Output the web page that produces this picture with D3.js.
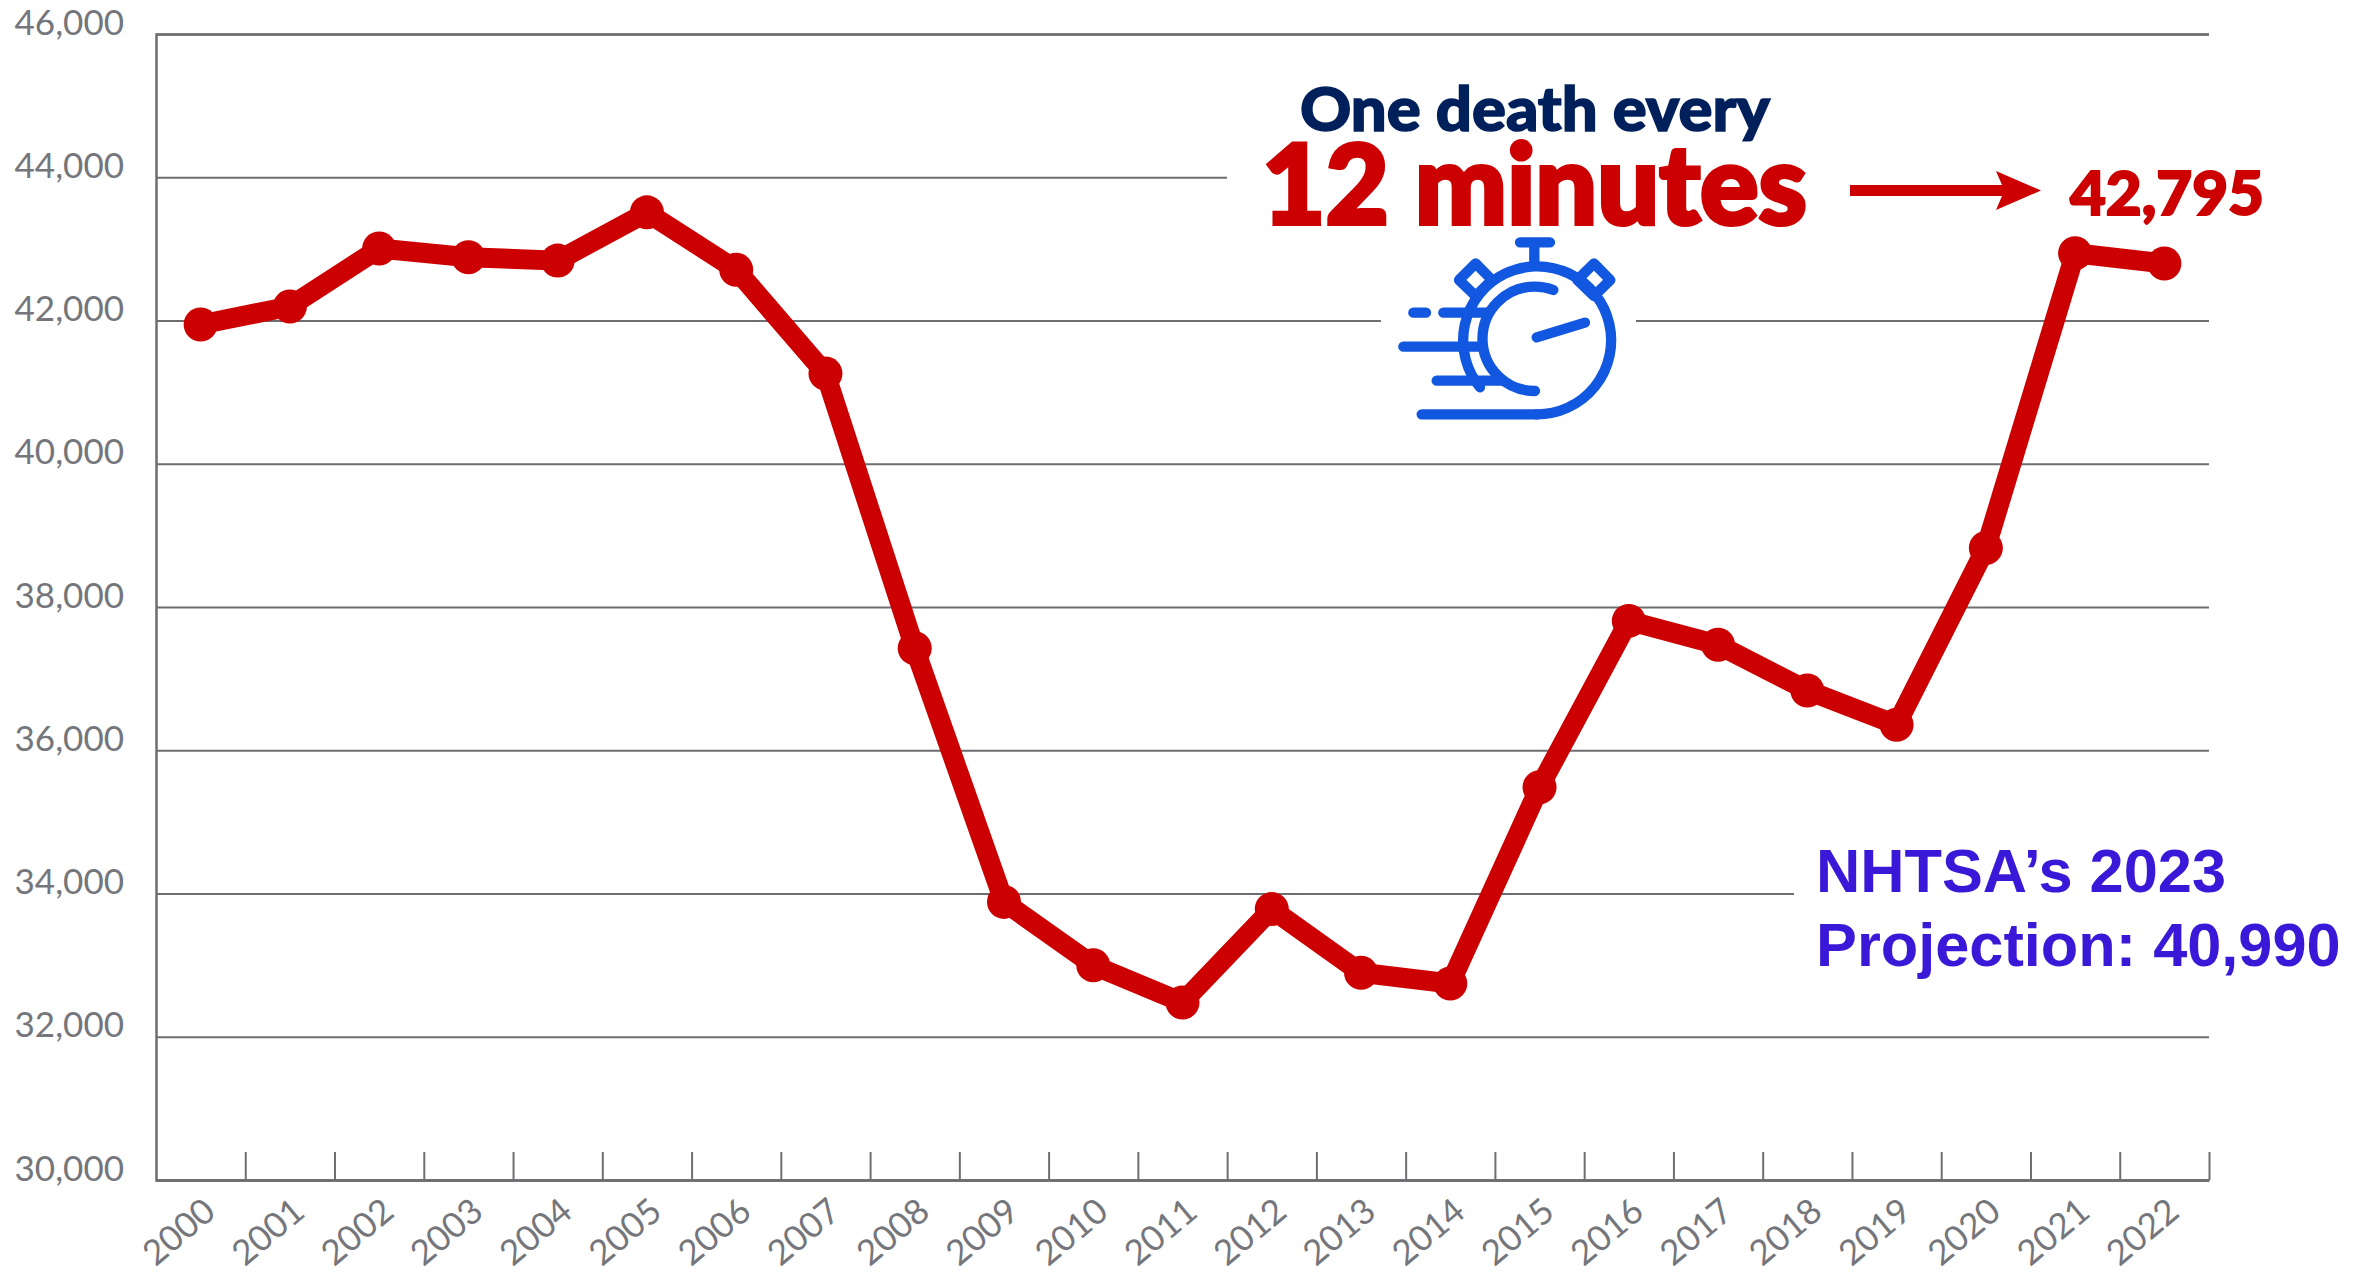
<!DOCTYPE html>
<html><head><meta charset="utf-8">
<script src="https://cdnjs.cloudflare.com/ajax/libs/d3/7.8.5/d3.min.js"></script>
<style>
html,body{margin:0;padding:0;background:#fff}
svg{display:block}
.tl{font-family:Lato,sans-serif;font-weight:400;font-size:35px;fill:#75767b}
.hv{font-family:Lato,sans-serif;font-weight:900}
</style></head><body>
<svg id="c" width="2369" height="1273"></svg>
<script>
const years = ["2000","2001","2002","2003","2004","2005","2006","2007","2008","2009","2010","2011","2012","2013","2014","2015","2016","2017","2018","2019","2020","2021","2022"];
const deaths = [41945,42196,43005,42884,42836,43510,42708,41259,37423,33883,32999,32479,33782,32893,32744,35484,37806,37473,36835,36355,38824,42939,42795];
const yTicks = [30000,32000,34000,36000,38000,40000,42000,44000,46000];
const L=156,R=2209,T=34,B=1180;
const RED="#cc0000",GREY="#6d6e72",BLUE="#1257e0";
const svg=d3.select("#c");
const x=d3.scaleBand().domain(years).range([L,R]);
const xEdge=d3.scaleLinear().domain([0,years.length]).range([L,R]);
const y=d3.scaleLinear().domain([30000,46000]).range([B,T]);
const fmt=d3.format(",");

const gy=svg.append("g").attr("transform",`translate(${L},0)`)
 .call(d3.axisLeft(y).tickValues(yTicks).tickFormat(fmt).tickSize(-(R-L)).tickPadding(0));
gy.selectAll("line").attr("stroke",GREY).attr("stroke-width",2);
gy.select(".domain").attr("stroke",GREY).attr("stroke-width",2.5);
gy.selectAll("text").attr("class","tl").attr("x",-32).attr("dy",null).attr("y",0);

[[1227,150,R-1227+2,56],[1381,290,255,60],[1794,880,R-1794+2,60]].forEach(([a,b,w,h])=>{
 svg.append("rect").attr("x",a).attr("y",b).attr("width",w).attr("height",h).attr("fill","#fff");
});

const ge=svg.append("g").attr("transform",`translate(0,${B})`)
 .call(d3.axisBottom(xEdge).tickValues(d3.range(1,years.length+1)).tickFormat("").tickSize(-28).tickSizeOuter(0));
ge.selectAll("line").attr("stroke",GREY).attr("stroke-width",2);
ge.select(".domain").attr("stroke",GREY).attr("stroke-width",2.5);
const gx=svg.append("g").attr("transform",`translate(0,${B})`)
 .call(d3.axisBottom(x).tickSize(0).tickPadding(0));
gx.select(".domain").remove();
gx.selectAll("text").attr("class","tl").attr("y",null).attr("dy",null)
 .attr("text-anchor","end").attr("transform","translate(17,35) rotate(-40)");

svg.append("path").datum(deaths)
 .attr("fill","none").attr("stroke",RED).attr("stroke-width",20).attr("stroke-linejoin","round")
 .attr("d",d3.line().x((d,i)=>x(years[i])+x.bandwidth()/2).y(d=>y(d)));
svg.append("g").selectAll("circle").data(deaths).join("circle")
 .attr("cx",(d,i)=>x(years[i])+x.bandwidth()/2).attr("cy",d=>y(d)).attr("r",17).attr("fill",RED);

svg.append("text").attr("class","hv").attr("x",1300).attr("y",131).attr("textLength",470).attr("lengthAdjust","spacingAndGlyphs")
 .attr("fill","#00205b").attr("stroke","#00205b").attr("stroke-width",1.5).attr("font-size",60).text("One death every");
svg.append("text").attr("class","hv").attr("x",1262).attr("y",224).attr("textLength",545).attr("lengthAdjust","spacingAndGlyphs")
 .attr("fill",RED).attr("stroke",RED).attr("stroke-width",4).attr("font-size",110).text("12 minutes");
svg.append("text").attr("class","hv").attr("x",2070).attr("y",215).attr("textLength",194).attr("lengthAdjust","spacingAndGlyphs")
 .attr("fill",RED).attr("stroke",RED).attr("stroke-width",2).attr("font-size",60).text("42,795");
svg.append("path").attr("fill",RED)
 .attr("d","M1850 185H2002L1996 171L2041 190.500L1996 210L2002 196H1850Z");

const w=svg.append("g").attr("transform","translate(1380,230) scale(0.3333)")
 .attr("fill","none").attr("stroke",BLUE).attr("stroke-width",31).attr("stroke-linecap","round").attr("stroke-linejoin","round");
w.append("path").attr("d","M470 553A222 222 0 1 0 300 472");
w.append("path").attr("d","M520 180A150 150 0 0 0 463 170A155 155 0 0 0 465 483");
w.append("path").attr("d","M470 322L615 278");
w.append("path").attr("d","M420 37H510M463 37V95");
w.append("path").attr("d","M287 100L336 150L287 198L237 150Z");
w.append("path").attr("d","M642 100L691 150L642 198L592 150Z");
w.append("path").attr("d","M100 248H138M190 248H320M70 350H300M170 452H370M125 553H470");

const pj=svg.append("text").attr("font-family","'Liberation Sans',Arial,sans-serif").attr("font-weight",700)
 .attr("font-size",61.3).attr("fill","#3a18d8");
pj.append("tspan").attr("x",1816).attr("y",892).text("NHTSA’s 2023");
pj.append("tspan").attr("x",1816).attr("y",966).text("Projection: 40,990");
</script>
</body></html>
